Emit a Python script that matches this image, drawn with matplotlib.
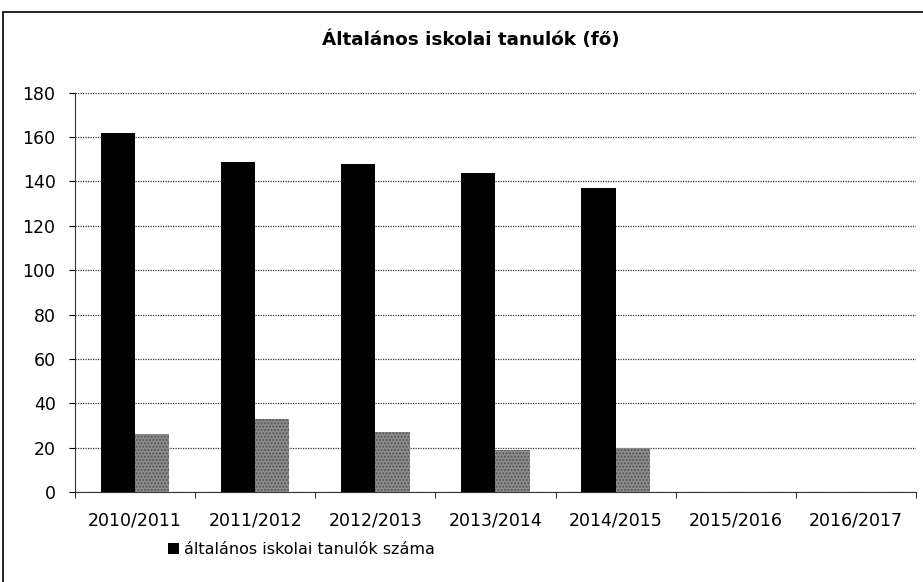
import matplotlib.pyplot as plt
from matplotlib.patches import Rectangle
import numpy as np

categories = ["2010/2011", "2011/2012", "2012/2013", "2013/2014", "2014/2015", "2015/2016", "2016/2017"]
tanulok = [162, 149, 148, 144, 137, 0, 0]
masik = [26, 33, 27, 19, 20, 0, 0]
yticks = [0, 20, 40, 60, 80, 100, 120, 140, 160, 180]

plt.rcParams['font.family'] = ['DejaVu Sans']

fig = plt.figure(figsize=(9.23, 5.82), dpi=100)
ax = fig.add_axes([0.0813, 0.1546, 0.911, 0.686])

x = np.arange(len(categories))
w = 0.285
ax.bar(x - w/2, tanulok, w, color='black', label='általános iskolai tanulók száma', zorder=3)
ax.bar(x + w/2, masik, w, color='#8c8c8c', edgecolor='#555555', hatch='.....', linewidth=0, zorder=3)

ax.set_xlim(-0.5, len(categories) - 0.5)
ax.set_ylim(0, 180)
ax.set_yticks(yticks)
ax.set_xticks(x)
ax.set_xticklabels(categories, fontsize=12.5)
ax.tick_params(axis='y', labelsize=12.5, length=4, pad=10)
ax.tick_params(axis='x', length=0, pad=14)
ax.set_xticks(np.arange(len(categories) + 1) - 0.5, minor=True)
ax.tick_params(axis='x', which='minor', length=4, direction='out')

ax.grid(axis='y', color='#333333', linestyle=(0, (1, 1)), linewidth=0.9, zorder=0)
for s in ['top', 'right']:
    ax.spines[s].set_visible(False)
for s in ['left', 'bottom']:
    ax.spines[s].set_linestyle((0, (1, 1)))
    ax.spines[s].set_color('#333333')

fig.text(0.51, 0.932, "Általános iskolai tanulók (fő)", ha='center', va='center',
         fontsize=13.2, fontweight='bold')

h, l = ax.get_legend_handles_labels()
fig.legend(h, l, loc='center left', bbox_to_anchor=(0.182, 0.055), frameon=False,
           fontsize=11.5, handlelength=0.7, handleheight=0.7, handletextpad=0.3,
           borderaxespad=0, borderpad=0)

fig.patches.append(Rectangle((0.003, -0.01), 1.0, 0.99, transform=fig.transFigure,
                             fill=False, edgecolor='black', linewidth=1.2))

fig.savefig('out.png', dpi=100)
